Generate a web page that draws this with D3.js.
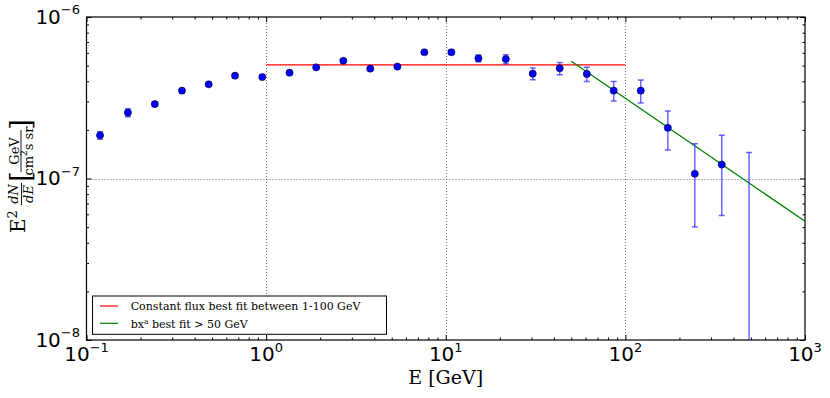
<!DOCTYPE html>
<html><head><meta charset="utf-8">
<script src="https://cdn.jsdelivr.net/npm/d3@7"></script>
<style>
html,body{margin:0;padding:0;background:#fff;}
svg{display:block;}
</style>
</head><body>
<svg id="chart" width="830" height="398"></svg>
<script>
// ---- data ----
const energy = [0.119, 0.170, 0.240, 0.340, 0.479, 0.671, 0.952, 1.35, 1.90, 2.69, 3.80, 5.38, 7.60, 10.75, 15.2, 21.6, 30.5, 43.1, 61.0, 86.1, 121.8, 172.3, 243.5, 344.0, 488.0];
const flux   = [1.85e-7, 2.56e-7, 2.89e-7, 3.50e-7, 3.83e-7, 4.33e-7, 4.25e-7, 4.52e-7, 4.88e-7, 5.36e-7, 4.79e-7, 4.93e-7, 6.05e-7, 6.05e-7, 5.55e-7, 5.49e-7, 4.46e-7, 4.81e-7, 4.44e-7, 3.50e-7, 3.50e-7, 2.06e-7, 1.07e-7, 1.22e-7, 5e-9];
const fluxErr = [0.10e-7, 0.145e-7, 0.09e-7, 0.07e-7, 0.07e-7, 0.08e-7, 0.08e-7, 0.09e-7, 0.09e-7, 0.11e-7, 0.10e-7, 0.11e-7, 0.15e-7, 0.20e-7, 0.26e-7, 0.35e-7, 0.37e-7, 0.42e-7, 0.45e-7, 0.48e-7, 0.57e-7, 0.56e-7, 0.57e-7, 0.63e-7, 1.40e-7];

const constFlux = 5.05e-7;          // constant flux best fit
const constRange = [1, 100];        // GeV
const powB = 1.046e-5;              // b in b*x^a
const powA = -0.7615;               // a in b*x^a
const powRange = [50, 1000];        // GeV

const xMajor = [0.1, 1, 10, 100, 1000];
const xMajorLabels = ["−1", "0", "1", "2", "3"];
const yMajor = [1e-8, 1e-7, 1e-6];
const yMajorLabels = ["−8", "−7", "−6"];
const xGrid = [1, 10, 100];
const yGrid = [1e-7];

const legendLabels = ["Constant flux best fit between 1-100 GeV", "bx", "best fit > 50 GeV"];

// ---- layout ----
const L = 86.5, R = 805, T = 17, B = 340;
const svg = d3.select("#chart");
const x = d3.scaleLog().domain([0.1, 1000]).range([L, R]);
const y = d3.scaleLog().domain([1e-8, 1e-6]).range([B, T]);

svg.append("defs").append("clipPath").attr("id", "clip")
  .append("rect").attr("x", L).attr("y", T).attr("width", R - L).attr("height", B - T);

// minor ticks
function minors(lo, hi) {
  const out = [];
  for (let e = lo; e < hi; e++) for (let k = 2; k <= 9; k++) out.push(k * Math.pow(10, e));
  return out;
}
const xMinor = minors(-1, 3);
const yMinor = minors(-8, -6);

// grid
const grid = svg.append("g").attr("stroke", "#777").attr("stroke-width", 1).attr("stroke-dasharray", "1,2");
grid.selectAll(".gx").data(xGrid).join("line")
  .attr("x1", d => Math.round(x(d)) + 0.5).attr("x2", d => Math.round(x(d)) + 0.5)
  .attr("y1", T).attr("y2", B);
grid.selectAll(".gy").data(yGrid).join("line")
  .attr("y1", d => Math.round(y(d)) + 0.5).attr("y2", d => Math.round(y(d)) + 0.5)
  .attr("x1", L).attr("x2", R);

// axes ticks (inward), all four sides
function addAxis(gen, tr, vals, size) {
  const g = svg.append("g").attr("transform", tr)
    .call(gen.tickValues(vals).tickSize(-size).tickFormat(() => "").tickSizeOuter(0));
  g.select(".domain").remove();
  g.selectAll(".tick line").attr("stroke", "#000").attr("stroke-width", 1);
  return g;
}
addAxis(d3.axisBottom(x), `translate(0,${B})`, xMajor, 5);
addAxis(d3.axisBottom(x), `translate(0,${B})`, xMinor, 2.5);
addAxis(d3.axisTop(x), `translate(0,${T})`, xMajor, 5);
addAxis(d3.axisTop(x), `translate(0,${T})`, xMinor, 2.5);
addAxis(d3.axisLeft(y), `translate(${L},0)`, yMajor, 5);
addAxis(d3.axisLeft(y), `translate(${L},0)`, yMinor, 2.5);
addAxis(d3.axisRight(y), `translate(${R},0)`, yMajor, 5);
addAxis(d3.axisRight(y), `translate(${R},0)`, yMinor, 2.5);

// frame
svg.append("rect").attr("x", L).attr("y", T).attr("width", R - L).attr("height", B - T)
  .attr("fill", "none").attr("stroke", "#000").attr("stroke-width", 1.2);

// tick labels
const tickFont = "'DejaVu Sans', sans-serif";
const xl = svg.append("g").attr("font-family", tickFont).attr("fill", "#000");
xMajor.forEach((v, i) => {
  const t = xl.append("text").attr("x", x(v)).attr("y", 361).attr("text-anchor", "middle").attr("font-size", 20);
  t.append("tspan").text("10");
  t.append("tspan").attr("font-size", 13).attr("dy", -9.5).text(xMajorLabels[i]);
});
yMajor.forEach((v, i) => {
  const t = xl.append("text").attr("x", 80).attr("y", y(v) + 6.8).attr("text-anchor", "end").attr("font-size", 20);
  t.append("tspan").text("10");
  t.append("tspan").attr("font-size", 13).attr("dy", -9.5).text(yMajorLabels[i]);
});

// x label
svg.append("text").attr("x", (L + R) / 2).attr("y", 384).attr("text-anchor", "middle")
  .attr("font-family", "'DejaVu Serif', serif").attr("font-size", 19).text("E [GeV]");

// y label (rotated)
const serif = "'DejaVu Serif', serif";
const yl = svg.append("g").attr("transform", "translate(22,178) rotate(-90)")
  .attr("font-family", serif).attr("fill", "#000");
const eT = yl.append("text").attr("x", -55).attr("y", 3).attr("font-size", 20);
eT.append("tspan").text("E");
eT.append("tspan").attr("font-size", 13).attr("dy", -8.5).text("2");
yl.append("text").attr("x", -16).attr("y", -4).attr("text-anchor", "middle").attr("font-size", 13).attr("font-style", "italic").text("dN");
yl.append("text").attr("x", -16).attr("y", 11).attr("text-anchor", "middle").attr("font-size", 13).attr("font-style", "italic").text("dE");
yl.append("line").attr("x1", -27).attr("x2", -5).attr("y1", -0.5).attr("y2", -0.5).attr("stroke", "#000").attr("stroke-width", 0.9);
yl.append("text").attr("x", -4).attr("y", 8).attr("font-size", 28).text("[");
yl.append("text").attr("x", 27).attr("y", -3.5).attr("text-anchor", "middle").attr("font-size", 13).text("GeV");
const cm = yl.append("text").attr("x", 27).attr("y", 11).attr("text-anchor", "middle").attr("font-size", 13);
cm.append("tspan").text("cm");
cm.append("tspan").attr("font-size", 9).attr("dy", -6).text("2");
cm.append("tspan").attr("dy", 6).text("s sr");
yl.append("line").attr("x1", 6).attr("x2", 48).attr("y1", -1).attr("y2", -1).attr("stroke", "#000").attr("stroke-width", 0.9);
yl.append("text").attr("x", 48).attr("y", 8).attr("font-size", 28).text("]");

// plot content (clipped)
const plot = svg.append("g").attr("clip-path", "url(#clip)");

// fit lines
plot.append("line")
  .attr("x1", x(constRange[0])).attr("x2", x(constRange[1]))
  .attr("y1", y(constFlux)).attr("y2", y(constFlux))
  .attr("stroke", "#ff0000").attr("stroke-width", 1.4);
plot.append("line")
  .attr("x1", x(powRange[0])).attr("x2", x(powRange[1]))
  .attr("y1", y(powB * Math.pow(powRange[0], powA))).attr("y2", y(powB * Math.pow(powRange[1], powA)))
  .attr("stroke", "#008000").attr("stroke-width", 1.3);

// error bars
const pts = energy.map((e, i) => ({e, f: flux[i], err: fluxErr[i]}));
const errCol = "rgba(40,40,255,0.7)";
const eb = plot.append("g").attr("stroke", errCol).attr("stroke-width", 1.5);
pts.forEach(p => {
  const hi = p.f + p.err;
  const lo = Math.max(p.f - p.err, 1e-10);
  const cx = x(p.e);
  eb.append("line").attr("x1", cx).attr("x2", cx).attr("y1", y(hi)).attr("y2", y(lo));
  eb.append("line").attr("x1", cx - 3).attr("x2", cx + 3).attr("y1", y(hi)).attr("y2", y(hi));
  eb.append("line").attr("x1", cx - 3).attr("x2", cx + 3).attr("y1", y(lo)).attr("y2", y(lo));
});

// markers
plot.selectAll("circle.pt").data(pts).join("circle")
  .attr("cx", d => x(d.e)).attr("cy", d => y(d.f)).attr("r", 3.6)
  .attr("fill", "#0000ff").attr("stroke", "#000").attr("stroke-width", 0.5);

// legend
const lg = svg.append("g");
lg.append("rect").attr("x", 92.5).attr("y", 296).attr("width", 294).attr("height", 38.3)
  .attr("fill", "#fff").attr("stroke", "#000").attr("stroke-width", 1);
lg.append("line").attr("x1", 100).attr("x2", 118).attr("y1", 306).attr("y2", 306).attr("stroke", "#ff0000").attr("stroke-width", 1.2);
lg.append("line").attr("x1", 100).attr("x2", 118).attr("y1", 323.3).attr("y2", 323.3).attr("stroke", "#008000").attr("stroke-width", 1.2);
lg.append("text").attr("x", 130.7).attr("y", 310).attr("font-family", serif).attr("font-size", 11).text(legendLabels[0]);
const l2 = lg.append("text").attr("x", 130.7).attr("y", 327.5).attr("font-family", serif).attr("font-size", 11);
l2.append("tspan").text(legendLabels[1]);
l2.append("tspan").attr("font-size", 7.5).attr("dy", -4).text("a");
l2.append("tspan").attr("dy", 4).text(" " + legendLabels[2]);
</script>
</body></html>
